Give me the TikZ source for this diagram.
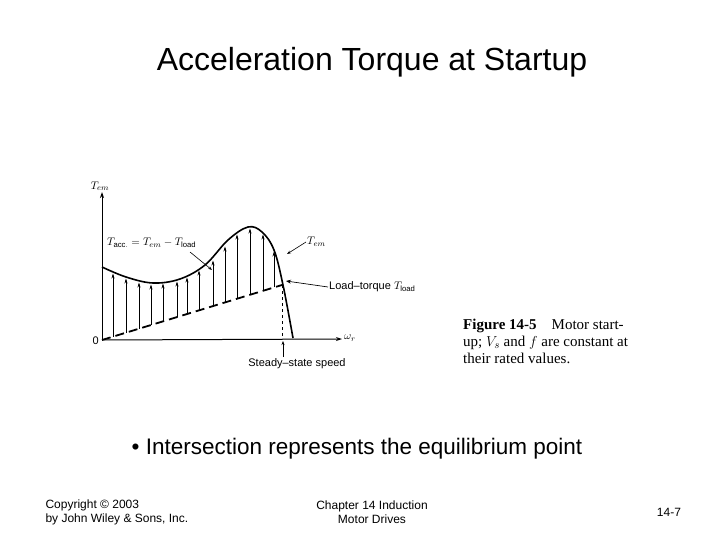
\documentclass[tikz,border=0pt]{standalone}
\usetikzlibrary{arrows.meta}
\usepackage{fontspec}
\setmainfont{Liberation Sans}
\newfontfamily\capfont{Liberation Serif}
\begin{document}
\begin{tikzpicture}[x=1pt,y=-1pt,
  lab/.style={font=\fontsize{11}{12}\selectfont,inner sep=1pt},
  foot/.style={font=\fontsize{12}{14}\selectfont,align=left},
  acc/.style={-{Stealth[length=5pt,width=3pt]},line width=0.5pt}]
\useasboundingbox[fill=white] (0,0) rectangle (720,540);
\node (title) at (372,62) {\fontsize{32}{36}\selectfont Acceleration Torque at Startup};
% axes
\coordinate (o) at (102,340);
\draw[line width=1pt,-{Stealth[length=6pt,width=4pt]}] (o) -- (102,192) coordinate (ytop);
\draw[line width=1pt,-{Stealth[length=6pt,width=4pt]}] (o) -- (342,339) coordinate (xend);
\node[lab,anchor=south] (tem) at (100,192) {$T_{em}$};
\node[lab,anchor=east] (zero) at (100,341) {0};
\node[lab,anchor=west] (wr) at (343,338) {$\omega_r$};
% load line
\coordinate (int) at (282,285);
\draw[line width=1.8pt,dash pattern=on 9pt off 5pt] (o) -- (int);
\draw[dashed,line width=0.6pt] (int) -- (282,338);
% arrows
\foreach \x/\a/\b in {113/336.6/272,126/332.7/277,139/328.7/281,151/325/283,163/321.4/282,177/317/280,187/314/276,199/310.4/269,213/306/259,225/302.4/245,237/298.7/233,250/294.8/227,263/290.8/233,274/287.4/250}
  \draw[acc] (\x,\a) -- (\x,\b+1.5);
% Tem curve
\draw[line width=1.6pt] plot[smooth,tension=0.6] coordinates {(102,267) (126,277) (153,283) (180,279) (205,265) (228,240) (248,227) (262,232) (274,250) (283,285) (293,338)};
% labels
\node[lab,anchor=west] (tacc) at (106,243) {$T_{\mathrm{acc.}}=T_{em}-T_{\mathrm{load}}$};
\draw[line width=0.6pt,-{Stealth[length=4pt,width=3pt]}] (190,252) -- (212,270);
\node[lab,anchor=west] (teml) at (306,242) {$T_{em}$};
\draw[line width=0.6pt,-{Stealth[length=4pt,width=3pt]}] (teml.west) -- (287,254);
\node[lab,anchor=west] (lt) at (328,287) {Load--torque $T_{\mathrm{load}}$};
\draw[line width=0.7pt,-{Stealth[length=5pt,width=4pt]}] (lt.west) -- (286,281);
\node[lab,anchor=north] (ss) at (297,357) {Steady--state speed};
\draw[line width=0.7pt,-{Stealth[length=4pt,width=3pt]}] (283,357) -- (283,341);
\node[anchor=north west,align=left,inner sep=0pt,font=\capfont\fontsize{15}{17}\selectfont] (cap) at (463,319)
  {\textbf{Figure 14-5}\quad Motor start-\\up; $V_s$ and $f$ are constant at\\their rated values.};
\node (bullet) at (357,449) {\fontsize{22.5}{26}\selectfont • Intersection represents the equilibrium point};
\node[foot,anchor=west] (f1) at (42,512) {Copyright © 2003\\by John Wiley \& Sons, Inc.};
\node[foot,align=center] (f2) at (372,512) {Chapter 14 Induction\\Motor Drives};
\node[foot] (f3) at (669,512) {14-7};
\end{tikzpicture}
\end{document}
